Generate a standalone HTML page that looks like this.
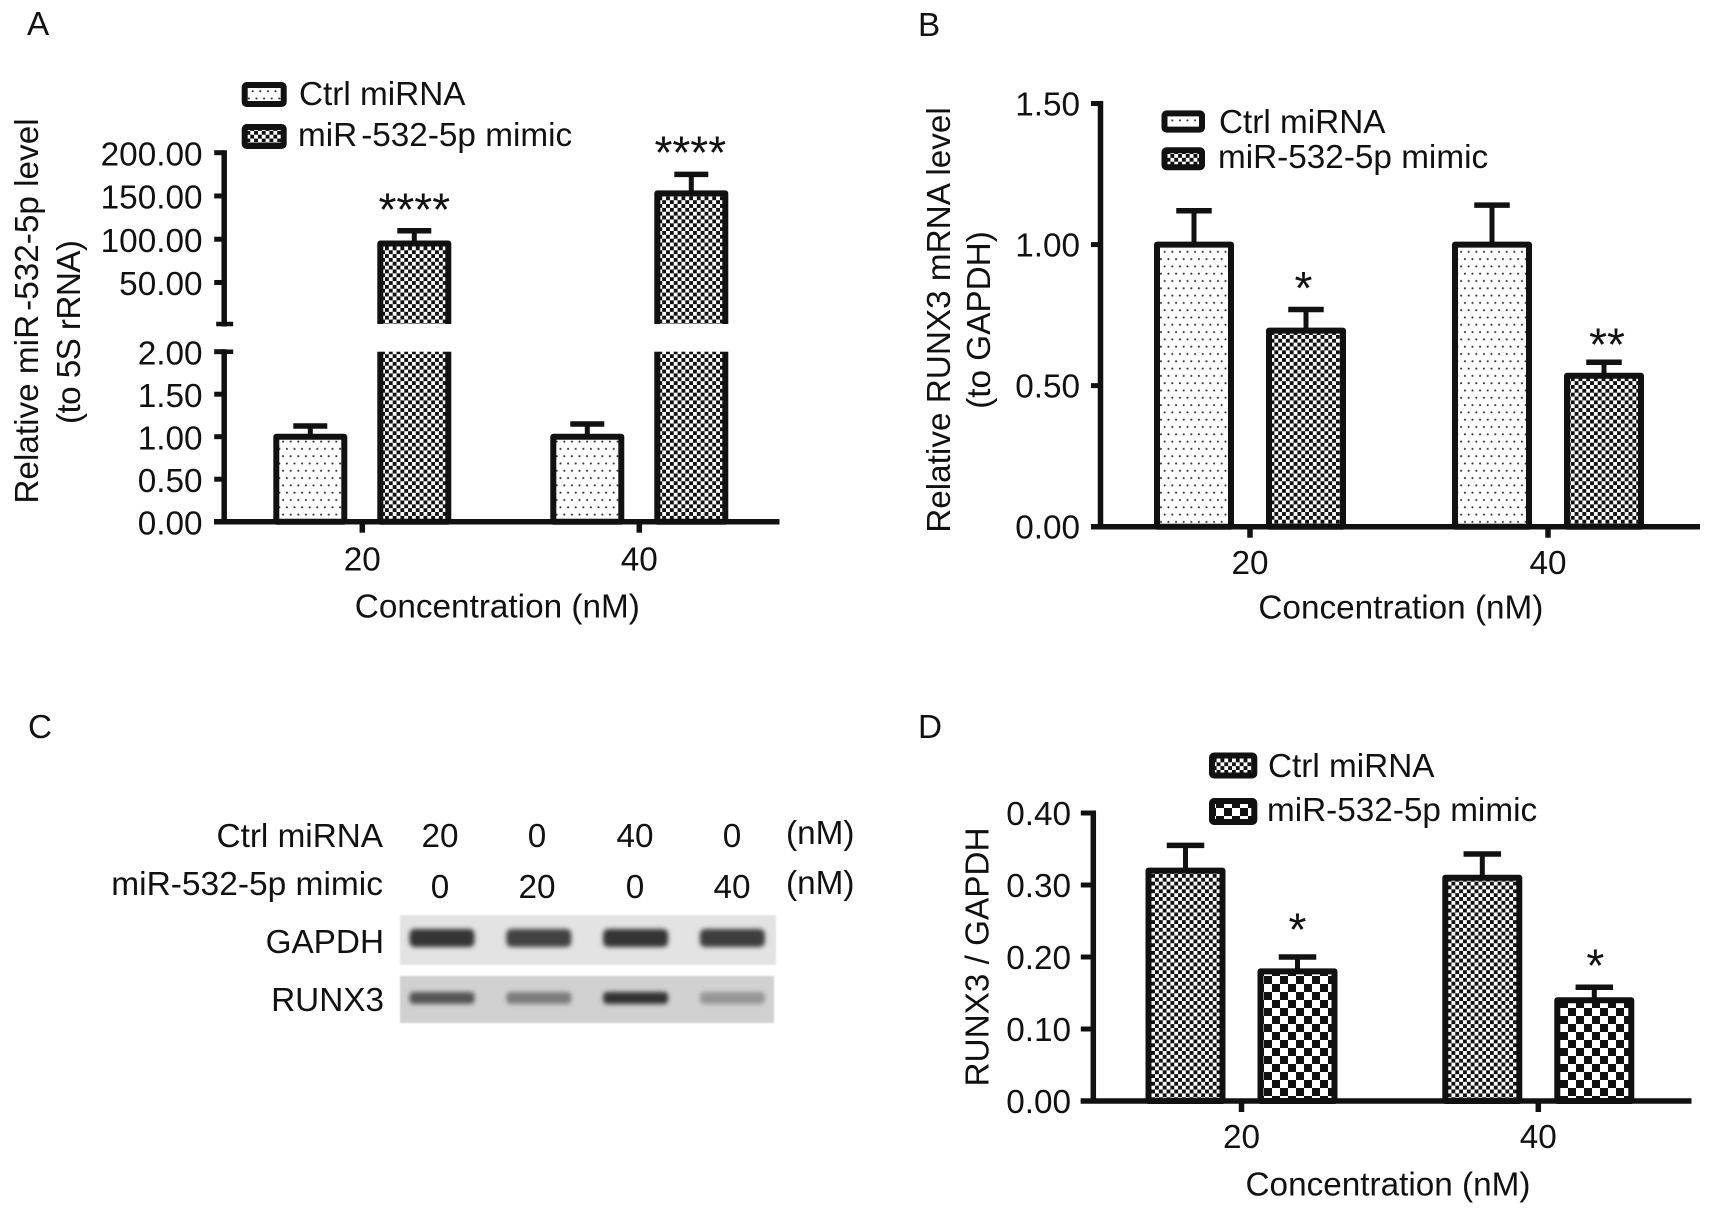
<!DOCTYPE html>
<html lang="en">
<head>
<meta charset="utf-8">
<title>miR-532-5p figure</title>
<style>
  html, body { margin: 0; padding: 0; background: #fff; }
  svg { display: block; }
  text { font-family: "Liberation Sans", Arial, sans-serif; font-size: 33.3px; fill: #111; }
</style>
</head>
<body>
<svg id="figure" xmlns="http://www.w3.org/2000/svg" width="1713" height="1215" viewBox="0 0 1713 1215">
  <defs>
    <pattern id="dots" patternUnits="userSpaceOnUse" width="7.6" height="14.6">
      <rect width="7.6" height="14.6" fill="#fff"/>
      <circle cx="1.9" cy="3.6" r="1.05" fill="#333"/>
      <circle cx="5.7" cy="10.9" r="1.05" fill="#333"/>
    </pattern>
    <pattern id="check-fine" patternUnits="userSpaceOnUse" width="7.7" height="7.7">
      <rect width="7.7" height="7.7" fill="#fff"/>
      <rect width="3.85" height="3.85" fill="#111"/>
      <rect x="3.85" y="3.85" width="3.85" height="3.85" fill="#111"/>
    </pattern>
    <pattern id="check-large" patternUnits="userSpaceOnUse" width="16" height="16">
      <rect width="16" height="16" fill="#fff"/>
      <rect width="8" height="8" fill="#111"/>
      <rect x="8" y="8" width="8" height="8" fill="#111"/>
    </pattern>
    <filter id="blot-blur" x="-20%" y="-60%" width="140%" height="220%"><feGaussianBlur stdDeviation="2.4"/></filter>
    <filter id="edge-blur" x="-2%" y="-5%" width="104%" height="110%"><feGaussianBlur stdDeviation="0.8"/></filter>
  </defs>
  <rect width="1713" height="1215" fill="#fff"/>

  <text x="27" y="35">A</text>
  <text x="918" y="36">B</text>
  <text x="28" y="738">C</text>
  <text x="918" y="738">D</text>

  <g id="panel-a"></g>
  <g id="panel-b"></g>
  <g id="panel-d"></g>

  <g>
    <text transform="translate(38 311) rotate(-90)" text-anchor="middle">Relative miR<tspan dx="4">-532-5p level</tspan></text>
    <text transform="translate(80 332) rotate(-90)" text-anchor="middle" textLength="184">(to 5S rRNA)</text>
    <text x="497.3" y="617.6" text-anchor="middle">Concentration (nM)</text>
  </g>
  <g>
    <rect x="244.7" y="85" width="39" height="19" rx="2" fill="url(#dots)" stroke="#111" stroke-width="6"/>
    <text x="299" y="105">Ctrl miRNA</text>
    <rect x="244.7" y="127" width="39" height="19" rx="2" fill="url(#check-fine)" stroke="#111" stroke-width="6"/>
    <text x="298" y="146">miR<tspan dx="4">-532-5p mimic</tspan></text>
  </g>

  <g>
    <text transform="translate(950 320) rotate(-90)" text-anchor="middle">Relative RUNX3 mRNA level</text>
    <text transform="translate(990 320) rotate(-90)" text-anchor="middle">(to GAPDH)</text>
    <text x="1400.9" y="618.7" text-anchor="middle">Concentration (nM)</text>
  </g>
  <g>
    <rect x="1164.5" y="113.35" width="37.5" height="16.3" rx="2" fill="url(#dots)" stroke="#111" stroke-width="6"/>
    <text x="1219" y="133">Ctrl miRNA</text>
    <rect x="1164.5" y="150.25" width="37.5" height="17" rx="2" fill="url(#check-fine)" stroke="#111" stroke-width="6"/>
    <text x="1218" y="168">miR-532-5p mimic</text>
  </g>

  <g>
    <text transform="translate(988.5 957) rotate(-90)" text-anchor="middle">RUNX3 / GAPDH</text>
    <text x="1388" y="1195.3" text-anchor="middle">Concentration (nM)</text>
  </g>
  <g>
    <rect x="1212" y="755.5" width="42.3" height="20" rx="2" fill="url(#check-fine)" stroke="#111" stroke-width="6"/>
    <text x="1268" y="777">Ctrl miRNA</text>
    <rect x="1212" y="801" width="42.3" height="21" rx="2" fill="url(#check-large)" stroke="#111" stroke-width="6"/>
    <text x="1267" y="821">miR-532-5p mimic</text>
  </g>

  <g>
    <text x="383" y="847" text-anchor="end">Ctrl miRNA</text>
    <text x="383" y="895" text-anchor="end" style="font-size:33.5px">miR-532-5p mimic</text>
    <text x="384" y="953" text-anchor="end">GAPDH</text>
    <text x="384" y="1011" text-anchor="end">RUNX3</text>
    <text x="440" y="847" text-anchor="middle">20</text>
    <text x="537" y="847" text-anchor="middle">0</text>
    <text x="635" y="847" text-anchor="middle">40</text>
    <text x="732" y="847" text-anchor="middle">0</text>
    <text x="440" y="898" text-anchor="middle">0</text>
    <text x="537" y="898" text-anchor="middle">20</text>
    <text x="635" y="898" text-anchor="middle">0</text>
    <text x="732" y="898" text-anchor="middle">40</text>
    <text x="786" y="844">(nM)</text>
    <text x="786" y="894">(nM)</text>
    <rect x="400" y="915" width="376" height="50" fill="#e3e3e3" filter="url(#edge-blur)"/>
    <rect x="400" y="976" width="374" height="47" fill="#d1d1d1" filter="url(#edge-blur)"/>
    <g id="blot-bands"></g>
  </g>
</svg>

<script>
const categories = ['20', '40'];

const panelACtrl = [1.0, 1.0];
const panelAMimic = [95, 153];
const panelACtrlErr = [0.126, 0.15];
const panelAMimicErr = [14.8, 22];
const panelAStars = ['****', '****'];
const panelATicks = [0, 0.5, 1, 1.5, 2, 50, 100, 150, 200];

const panelBCtrl = [1.0, 1.0];
const panelBMimic = [0.695, 0.535];
const panelBCtrlErr = [0.12, 0.14];
const panelBMimicErr = [0.075, 0.048];
const panelBStars = ['*', '**'];
const panelBTicks = [0, 0.5, 1, 1.5];

const panelDCtrl = [0.32, 0.31];
const panelDMimic = [0.18, 0.14];
const panelDCtrlErr = [0.035, 0.033];
const panelDMimicErr = [0.02, 0.018];
const panelDStars = ['*', '*'];
const panelDTicks = [0, 0.1, 0.2, 0.3, 0.4];

const laneGapdhGray = [52, 66, 54, 62];
const laneRunx3Gray = [85, 125, 50, 150];

const NS = 'http://www.w3.org/2000/svg';
const INK = '#111';

function make(parent, tag, props, content) {
  const el = document.createElementNS(NS, tag);
  for (const k in props) el.setAttribute(k, props[k]);
  if (content !== undefined) el.textContent = content;
  parent.appendChild(el);
  return el;
}

function linearScale(d0, d1, r0, r1) {
  return function (v) { return r0 + (v - d0) * (r1 - r0) / (d1 - d0); };
}

function drawBarChart(p) {
  const root = document.getElementById(p.id);
  const sw = 6;

  // value bars
  [p.ctrl, p.mimic].forEach(function (series, s) {
    const dir = s === 0 ? -1 : 1;
    const fill = s === 0 ? p.ctrlFill : p.mimicFill;
    const err = s === 0 ? p.ctrlErr : p.mimicErr;
    series.forEach(function (v, i) {
      const cx = p.xTick(i) + dir * p.barOffset;
      const top = p.y(v);
      const capY = p.y(v + err[i]);

      const stem = make(root, 'line', { x1: cx, x2: cx, y1: capY, y2: top, stroke: INK, 'stroke-width': 5 });
      
      

      const cap = make(root, 'line', { x1: cx - p.capWidth / 2, x2: cx + p.capWidth / 2, y1: capY, y2: capY, stroke: INK, 'stroke-width': 5.5 });
      
      

      const bar = make(root, 'rect', {
        x: cx - p.barWidth / 2 + sw / 2, y: top,
        width: p.barWidth - sw, height: p.y0 - top,
        fill: fill, stroke: INK, 'stroke-width': sw, 'stroke-linejoin': 'round'
      });
      
      

      if (s === 1) {
        const star = make(root, 'text', { x: cx + p.starNudge[i], y: capY - p.starGap[i], 'text-anchor': 'middle', style: 'font-size:46px' }, p.stars[i]);
        
        
      }
    });
  });

  // white gap over the bars for a broken axis
  if (p.gap) {
    const gapRect = make(root, 'rect', { x: p.axisX + 6, y: p.gap[0], width: p.xEnd - p.axisX - 6, height: p.gap[1] - p.gap[0], fill: '#fff' });
    
    
  }

  // y axis
  const segments = p.gap ? [[p.yTop, p.gap[0]], [p.gap[1], p.y0]] : [[p.yTop, p.y0]];
  segments.forEach(function (seg) {
    const axis = make(root, 'line', { x1: p.axisX, x2: p.axisX, y1: seg[0] - 2.5, y2: seg[1] + 2.5, stroke: INK, 'stroke-width': 5.5 });
    
    
  });
  if (p.gap) {
    p.gap.forEach(function (gy) {
      const mark = make(root, 'line', { x1: p.axisX - 8, x2: p.axisX + 9, y1: gy, y2: gy, stroke: INK, 'stroke-width': 4.5 });
      
      
    });
  }
  p.ticks.forEach(function (t) {
    const ty = p.y(t);
    const tick = make(root, 'line', { x1: p.axisX - p.tickLen, x2: p.axisX, y1: ty, y2: ty, stroke: INK, 'stroke-width': 5 });
    
    
    const label = make(root, 'text', { x: p.labelRight, y: ty + p.labelDrop, 'text-anchor': 'end' }, t.toFixed(2));
    
    
  });

  // x axis
  const xAxis = make(root, 'line', { x1: p.xStart, x2: p.xEnd, y1: p.y0, y2: p.y0, stroke: INK, 'stroke-width': 5.5 });
  
  
  categories.forEach(function (c, i) {
    const tx = p.xTick(i);
    const tick = make(root, 'line', { x1: tx, x2: tx, y1: p.y0, y2: p.y0 + 11, stroke: INK, 'stroke-width': 5.5 });
    
    
    const label = make(root, 'text', { x: tx, y: p.xLabelY, 'text-anchor': 'middle' }, c);
    
    
  });
}

// Panel A: broken axis, value 2 sits at both edges of the gap
const aLower = linearScale(0, 2, 521.7, 351.7);
const aUpper = linearScale(2, 200, 324, 152.7);
drawBarChart({
  id: 'panel-a', ctrl: panelACtrl, mimic: panelAMimic, ctrlErr: panelACtrlErr, mimicErr: panelAMimicErr, stars: panelAStars,
  ticks: panelATicks, ctrlFill: 'url(#dots)', mimicFill: 'url(#check-fine)',
  y: function (v) { return v <= 2 ? aLower(v) : aUpper(v); },
  y0: 521.7, yTop: 152.7, gap: [324, 351.7], axisX: 224.2, xStart: 214, xEnd: 779.5,
  xTick: function (i) { return 362.3 + i * 277; }, barOffset: 52, barWidth: 74, capWidth: 34,
  tickLen: 10, labelRight: 202.5, labelDrop: 12.6, xLabelY: 570.7, starGap: [5.4, 6], starNudge: [0, -1]
});

// Panel B
drawBarChart({
  id: 'panel-b', ctrl: panelBCtrl, mimic: panelBMimic, ctrlErr: panelBCtrlErr, mimicErr: panelBMimicErr, stars: panelBStars,
  ticks: panelBTicks, ctrlFill: 'url(#dots)', mimicFill: 'url(#check-fine)',
  y: linearScale(0, 1.5, 526.7, 103.5),
  y0: 526.7, yTop: 103.5, axisX: 1100.5, xStart: 1091, xEnd: 1700,
  xTick: function (i) { return 1250 + i * 298; }, barOffset: 56, barWidth: 80, capWidth: 35.5,
  tickLen: 9.5, labelRight: 1080, labelDrop: 12, xLabelY: 574, starGap: [5.5, 1.7], starNudge: [-2.5, 3]
});

// Panel D
drawBarChart({
  id: 'panel-d', ctrl: panelDCtrl, mimic: panelDMimic, ctrlErr: panelDCtrlErr, mimicErr: panelDMimicErr, stars: panelDStars,
  ticks: panelDTicks, ctrlFill: 'url(#check-fine)', mimicFill: 'url(#check-large)',
  y: linearScale(0, 0.4, 1101, 813),
  y0: 1101, yTop: 813, axisX: 1093.3, xStart: 1080.7, xEnd: 1691.5,
  xTick: function (i) { return 1241.5 + i * 296.8; }, barOffset: 56, barWidth: 80, capWidth: 37.5,
  tickLen: 12.5, labelRight: 1071, labelDrop: 12, xLabelY: 1148, starGap: [11.3, 5.8], starNudge: [0, 1]
});

// Panel C: gel bands drawn from lane intensities
const bandsRoot = document.getElementById('blot-bands');
function laneCenter(i) { return 442 + i * 96.8; }
function gray(g) { return 'rgb(' + g + ',' + g + ',' + g + ')'; }
laneGapdhGray.forEach(function (g, i) {
  const band = make(bandsRoot, 'rect', { x: laneCenter(i) - 32.5, y: 929, width: 65, height: 18, rx: 5, fill: gray(g), filter: 'url(#blot-blur)' });
  
  
});
laneRunx3Gray.forEach(function (g, i) {
  const band = make(bandsRoot, 'rect', { x: laneCenter(i) - 32.5, y: 992, width: 65, height: 12, rx: 4, fill: gray(g), filter: 'url(#blot-blur)' });
  
  
});
</script>
</body>
</html>
